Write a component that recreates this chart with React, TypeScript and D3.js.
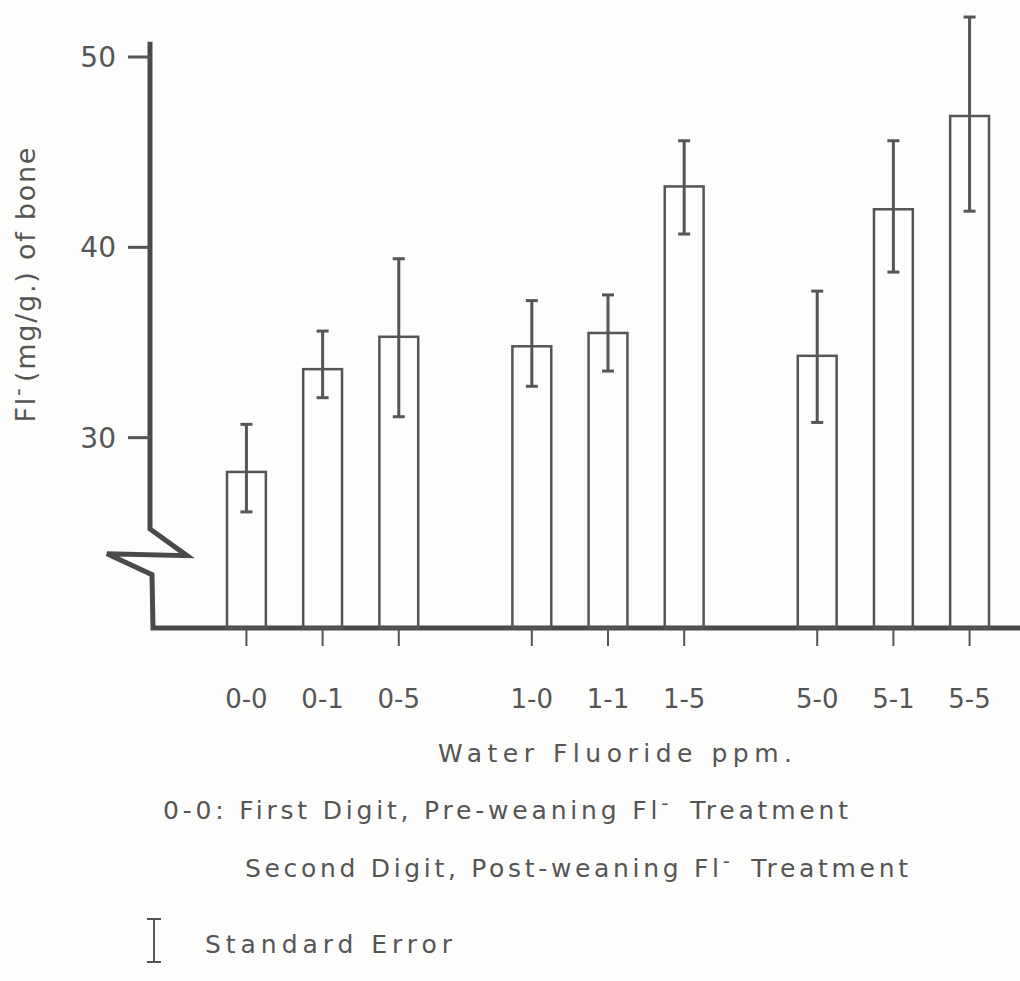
import React from 'react';
import * as d3 from 'd3';

// treatment groups: first digit = pre-weaning, second = post-weaning
const groups = ['0', '1', '5'];
const subs = ['0', '1', '5'];
const categories = ['0-0', '0-1', '0-5', '1-0', '1-1', '1-5', '5-0', '5-1', '5-5'];
const means = [28.2, 33.6, 35.3, 34.8, 35.5, 43.2, 34.3, 42.0, 46.9];
const errHigh = [30.7, 35.6, 39.4, 37.2, 37.5, 45.6, 37.7, 45.6, 52.1];
const errLow = [26.1, 32.1, 31.1, 32.7, 33.5, 40.7, 30.8, 38.7, 41.9];
const yTicks = [30, 40, 50];

const ink = '#555';
const font = "'DejaVu Sans', 'Liberation Sans', sans-serif";

// "Fl" with a raised minus sign
const FlMinus: React.FC<{ size: number }> = ({ size }) => (
    <>
        <tspan>Fl</tspan>
        <tspan dy={-size * 0.38} fontSize={size * 0.8}>-</tspan>
        <tspan dy={size * 0.38}>{'\u200a'}</tspan>
    </>
);

const App: React.FC = () => {
    const width = 1020;
    const height = 981;

    const y = d3.scaleLinear().domain([20, 50]).range([628, 57]);
    const xGroup = d3.scaleBand<string>().domain(groups).range([227, 989]).paddingInner(0.33);
    const xSub = d3.scaleBand<string>().domain(subs).range([0, xGroup.bandwidth()]).paddingInner(0.49);

    const barX = (cat: string) => {
        const [g, s] = cat.split('-');
        return (xGroup(g) ?? 0) + (xSub(s) ?? 0);
    };
    const bw = xSub.bandwidth();
    const base = y(20);
    const axisX = 150;

    // broken y axis with zigzag near the bottom
    const axisPath = d3.path();
    axisPath.moveTo(axisX, y(50.8));
    axisPath.lineTo(axisX, y(25.2));
    axisPath.lineTo(axisX + 37, y(23.8));
    axisPath.lineTo(axisX - 43, y(23.9));
    axisPath.lineTo(axisX + 2, y(22.8));
    axisPath.lineTo(axisX + 3, base);
    axisPath.lineTo(width, base);

    return (
        <div style={{ position: 'absolute', left: 0, top: 0 }}>
            <svg width={width} height={height} style={{ background: '#fdfdfc', display: 'block' }}>
                <path d={axisPath.toString()} fill="none" stroke="#4a4a4a" strokeWidth={5} strokeLinejoin="miter" />

                {yTicks.map(t => (
                    <g key={t}>
                        <line x1={axisX - 22} x2={axisX} y1={y(t)} y2={y(t)} stroke={ink} strokeWidth={3} />
                        <text x={116} y={y(t)} dy="0.36em" textAnchor="end" fontSize={28}
                            fontFamily={font} fill={ink}>{t}</text>
                    </g>
                ))}

                <text transform={`translate(35, 285) rotate(-90)`} textAnchor="middle" fontSize={27}
                    fontFamily={font} fill={ink} textLength={275} lengthAdjust="spacing">
                    <FlMinus size={27} />(mg/g.) of bone
                </text>

                {categories.map((c, i) => {
                    const x = barX(c);
                    const cx = x + bw / 2;
                    return (
                        <g key={c}>
                            <rect x={x} y={y(means[i])} width={bw} height={base - y(means[i])}
                                fill="none" stroke={ink} strokeWidth={2.5} />
                            <line x1={cx} x2={cx} y1={y(errHigh[i])} y2={y(errLow[i])} stroke={ink} strokeWidth={3} />
                            <line x1={cx - 6} x2={cx + 6} y1={y(errHigh[i])} y2={y(errHigh[i])} stroke={ink} strokeWidth={3} />
                            <line x1={cx - 6} x2={cx + 6} y1={y(errLow[i])} y2={y(errLow[i])} stroke={ink} strokeWidth={3} />
                            <line x1={cx} x2={cx} y1={base} y2={base + 18} stroke={ink} strokeWidth={2} />
                            <text x={cx} y={708} textAnchor="middle" fontSize={26} fontFamily={font}
                                fill={ink}>{c}</text>
                        </g>
                    );
                })}

                <text x={438} y={762} fontSize={25} fontFamily={font} fill={ink}
                    textLength={354} lengthAdjust="spacing">Water  Fluoride  ppm.</text>
                <text x={163} y={819} fontSize={25} fontFamily={font} fill={ink}
                    textLength={685} lengthAdjust="spacing">
                    0-0:  First  Digit, Pre-weaning <FlMinus size={25} /> Treatment
                </text>
                <text x={245} y={877} fontSize={25} fontFamily={font} fill={ink}
                    textLength={663} lengthAdjust="spacing">
                    Second  Digit, Post-weaning <FlMinus size={25} /> Treatment
                </text>

                {/* standard error key */}
                <g stroke={ink} strokeWidth={2}>
                    <line x1={154} x2={154} y1={919} y2={962} />
                    <line x1={147} x2={161} y1={919} y2={919} />
                    <line x1={147} x2={161} y1={962} y2={962} />
                </g>
                <text x={205} y={953} fontSize={25} fontFamily={font} fill={ink}
                    textLength={247} lengthAdjust="spacing">Standard  Error</text>
            </svg>
        </div>
    );
};

export default App;
